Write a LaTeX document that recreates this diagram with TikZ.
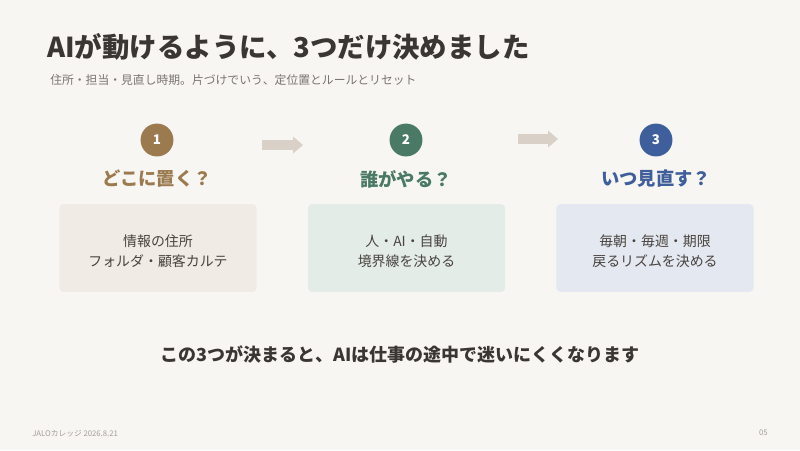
\documentclass[tikz,border=0pt]{standalone}
\usepackage{fontspec}
\setmainfont{Noto Sans CJK JP}
\usepackage{xcolor}
\usepackage{tikz}
\usetikzlibrary{arrows.meta, positioning, calc}

\definecolor{bgpaper}{HTML}{F8F6F2}
\definecolor{inkdark}{HTML}{3A3633}
\definecolor{inkgray}{HTML}{7A7570}
\definecolor{inkbox}{HTML}{48433F}
\definecolor{stepbrown}{HTML}{9A7A4E}
\definecolor{stepgreen}{HTML}{4A7A65}
\definecolor{stepblue}{HTML}{3E5E9C}
\definecolor{arrowgray}{HTML}{D9D1C7}
\definecolor{boxbrown}{HTML}{F0EBE5}
\definecolor{boxgreen}{HTML}{E4ECE7}
\definecolor{boxblue}{HTML}{E4E8F0}

\begin{document}
\begin{tikzpicture}[x=0.025cm, y=-0.025cm,
  stepdot/.style={circle, minimum size=33*0.709pt, inner sep=0pt, text=white,
    font=\fontsize{9.5}{10}\selectfont\bfseries},
  question/.style={font=\fontsize{13}{15}\selectfont\bfseries},
  infobox/.style={rounded corners=3pt, minimum width=198*0.709pt,
    minimum height=88*0.709pt},
  boxtext/.style={align=center, text=inkbox,
    font=\fontsize{9.9}{14.6}\selectfont},
  flowarrow/.style={draw=arrowgray, line width=6.5pt,
    -{Triangle[length=7pt, width=11.5pt]}}]

  % Background
  \fill[bgpaper] (0,0) rectangle (800,450);
  \useasboundingbox (0,0) rectangle (800,450);

  % --- 1. Title ---
  \node[anchor=west, inner sep=0pt, text=inkdark,
    font=\fontsize{19.5}{22}\selectfont\bfseries] (title) at (47,47)
    {AIが動けるように、3つだけ決めました};
  \node[anchor=west, inner sep=0pt, text=inkgray,
    font=\fontsize{8.4}{10}\selectfont] (subtitle) at (50,80)
    {住所・担当・見直し時期。片づけでいう、定位置とルールとリセット};

  % --- 2. Steps ---
  \node[stepdot, fill=stepbrown] (n1) at (157,140) {1};
  \node[stepdot, fill=stepgreen] (n2) at (406,140) {2};
  \node[stepdot, fill=stepblue]  (n3) at (656,140) {3};

  \node[question, text=stepbrown] (q1) at (157,179) {どこに置く？};
  \node[question, text=stepgreen] (q2) at (406,179) {誰がやる？};
  \node[question, text=stepblue]  (q3) at (656,179) {いつ見直す？};

  % Arrows
  \coordinate (a1s) at (262,145);
  \coordinate (a1e) at (303,145);
  \coordinate (a2s) at (518,139);
  \coordinate (a2e) at (558,139);
  \draw[flowarrow] (a1s) -- (a1e);
  \draw[flowarrow] (a2s) -- (a2e);

  % --- 3. Boxes ---
  \node[infobox, fill=boxbrown] (b1) at (158,248) {};
  \node[infobox, fill=boxgreen] (b2) at (406.5,248) {};
  \node[infobox, fill=boxblue]  (b3) at (655,248) {};

  \node[boxtext] (t1) at ([yshift=-2.2pt]b1.center) {情報の住所\\フォルダ・顧客カルテ};
  \node[boxtext] (t2) at ([yshift=-2.2pt]b2.center) {人・AI・自動\\境界線を決める};
  \node[boxtext] (t3) at ([yshift=-2.2pt]b3.center) {毎朝・毎週・期限\\戻るリズムを決める};

  % Summary
  \node[text=inkdark, font=\fontsize{12.8}{15}\selectfont\bfseries] (summary) at (400,354)
    {この3つが決まると、AIは仕事の途中で迷いにくくなります};

  % Footer
  \node[anchor=west, inner sep=0pt, text=inkgray!70,
    font=\fontsize{5.5}{6}\selectfont] (footer) at (32,434) {JALOカレッジ 2026.8.21};
  \node[anchor=east, inner sep=0pt, text=inkgray!70,
    font=\fontsize{5.5}{6}\selectfont] (page) at (768,433) {05};

\end{tikzpicture}
\end{document}
